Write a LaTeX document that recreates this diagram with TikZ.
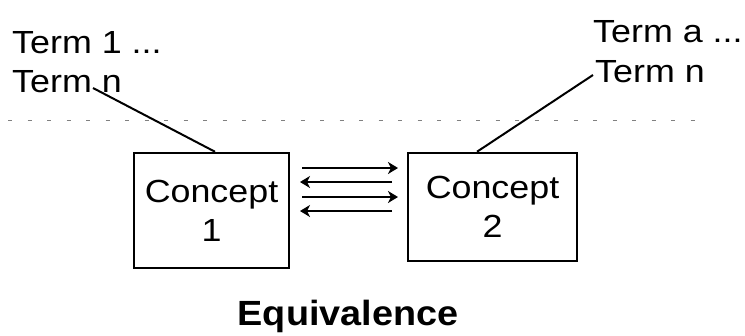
\documentclass[tikz,border=0pt]{standalone}
\usepackage{fontspec}
\setmainfont{Liberation Sans}[FakeStretch=1.12, BoldFeatures={FakeStretch=1.08}]
\usetikzlibrary{arrows.meta}
\tikzset{
  term/.style={anchor=base west, inner sep=0pt, font=\fontsize{32}{38}\selectfont},
  concept/.style={draw, line width=2.5pt, align=center, inner sep=0pt,
    font=\fontsize{32}{39}\selectfont},
  conn/.style={line width=2pt},
  eqarrow/.style={line width=2.3pt, -{Stealth[length=10pt,width=12pt,inset=3pt]}},
  sep/.style={gray, line width=1pt, dash pattern=on 4pt off 15.5pt}
}
\begin{document}
\begin{tikzpicture}[x=1pt,y=-1pt]
\useasboundingbox (0,0) rectangle (745,335);
% left terms
\node[term] (l1) at (12,53) {Term 1 ...};
\node[term] (l2) at (12,92) {Term n};
% right terms
\node[term] (r1) at (593,42) {Term a ...};
\node[term] (r2) at (595,82) {Term n};
% separator
\coordinate (sA) at (8,120);
\coordinate (sB) at (708,120);
\draw[sep] (sA) -- (sB);
% concepts
\node[concept, minimum width=155pt, minimum height=115pt] (c1) at (211.5,210.5) {Concept\\1};
\node[concept, minimum width=169pt, minimum height=108pt] (c2) at (492.5,207) {Concept\\2};
% connectors
\coordinate (lt) at (93,88);
\coordinate (rt) at (593,75);
\draw[conn] (lt) -- (c1.north -| 215,0);
\draw[conn] (rt) -- (c2.north -| 477,0);
% arrows
\coordinate (a1) at (302,168); \coordinate (b1) at (398,168);
\coordinate (a2) at (300,182); \coordinate (b2) at (392,182);
\coordinate (a3) at (302,197); \coordinate (b3) at (398,197);
\coordinate (a4) at (300,211); \coordinate (b4) at (392,211);
\draw[eqarrow] (a1) -- (b1);
\draw[eqarrow] (b2) -- (a2);
\draw[eqarrow] (a3) -- (b3);
\draw[eqarrow] (b4) -- (a4);
% title
\node[anchor=base, inner sep=0pt, font=\fontsize{35}{40}\selectfont\bfseries] (title) at (348,325) {Equivalence};
\end{tikzpicture}
\end{document}
